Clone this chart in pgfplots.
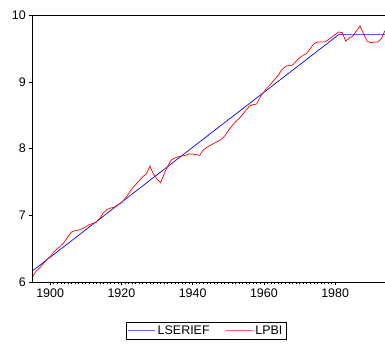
\documentclass[border=0pt]{standalone}
\usepackage{fontspec}
\setmainfont{Liberation Sans}
\usepackage{pgfplots}
\pgfplotsset{compat=1.18}
\usepackage{pgfplotstable}
\pgfplotstableread{
year val
1895 6.07
1896 6.16
1897 6.21
1898 6.27
1899 6.33
1900 6.38
1901 6.45
1902 6.50
1903 6.54
1904 6.60
1905 6.68
1906 6.75
1907 6.77
1908 6.78
1909 6.80
1910 6.83
1911 6.86
1912 6.88
1913 6.90
1914 6.96
1915 7.04
1916 7.09
1917 7.11
1918 7.12
1919 7.16
1920 7.19
1921 7.25
1922 7.32
1923 7.40
1924 7.46
1925 7.52
1926 7.58
1927 7.62
1928 7.74
1929 7.62
1930 7.54
1931 7.49
1932 7.62
1933 7.74
1934 7.83
1935 7.86
1936 7.88
1937 7.89
1938 7.90
1939 7.92
1940 7.92
1941 7.91
1942 7.90
1943 7.98
1944 8.02
1945 8.05
1946 8.08
1947 8.11
1948 8.14
1949 8.19
1950 8.27
1951 8.34
1952 8.40
1953 8.45
1954 8.51
1955 8.58
1956 8.64
1957 8.66
1958 8.67
1959 8.78
1960 8.85
1961 8.92
1962 8.97
1963 9.04
1964 9.10
1965 9.18
1966 9.23
1967 9.25
1968 9.25
1969 9.31
1970 9.36
1971 9.40
1972 9.43
1973 9.50
1974 9.57
1975 9.60
1976 9.60
1977 9.60
1978 9.63
1979 9.67
1980 9.71
1981 9.75
1982 9.74
1983 9.61
1984 9.66
1985 9.69
1986 9.77
1987 9.84
1988 9.72
1989 9.61
1990 9.59
1991 9.60
1992 9.60
1993 9.65
1994 9.77
}\lpbi
\pgfplotstableread{
year val
1895 6.165
1981 9.71
1994 9.71
}\lserief
\begin{document}
\begin{tikzpicture}
\begin{axis}[
  name=ax,
  scale only axis,
  width=352.7bp, height=266.7bp,
  xmin=1895, xmax=1994, ymin=6, ymax=10,
  axis line style={draw=none},
  xtick={1900,1920,1940,1960,1980},
  ytick={6,7,8,9,10},
  minor x tick num=19,
  tick align=outside,
  xtick pos=bottom, ytick pos=left,
  major tick length=3bp, minor tick length=2bp,
  every tick/.style={black, line width=0.5pt},
  /pgf/number format/assume math mode=true,
  x tick label style={/pgf/number format/1000 sep={}},
  tick label style={font=\fontsize{12.5}{14}\selectfont},
  legend style={at={(0.493,0)}, anchor=north, yshift=-40bp,
    font=\fontsize{12.5}{14}\selectfont, legend columns=2,
    inner xsep=2bp, inner ysep=1.5bp,
    /tikz/every even column/.append style={column sep=14bp}},
  clip=false,
]
\addplot[blue, line width=0.7pt,
  legend image code/.code={\draw[draw=blue!60, line width=0.8pt] (0bp,0bp) -- (27bp,0bp);}]
  table[x=year,y=val] {\lserief};
\addlegendentry{LSERIEF}
\addplot[red, line width=0.7pt,
  legend image code/.code={\draw[draw=red!60, line width=0.8pt] (0bp,0bp) -- (27bp,0bp);}]
  table[x=year,y=val] {\lpbi};
\addlegendentry{LPBI}
\draw[black, line width=0.9pt] (rel axis cs:0,0) -- (rel axis cs:0,1) -- (rel axis cs:1,1);
\draw[black, line width=0.9pt] (rel axis cs:0,0) -- (rel axis cs:1,0);
\end{axis}
\pgfresetboundingbox
\useasboundingbox ([xshift=-32.3bp, yshift=-65bp]ax.south west) rectangle ([yshift=15.3bp]ax.north east);
\end{tikzpicture}
\end{document}
